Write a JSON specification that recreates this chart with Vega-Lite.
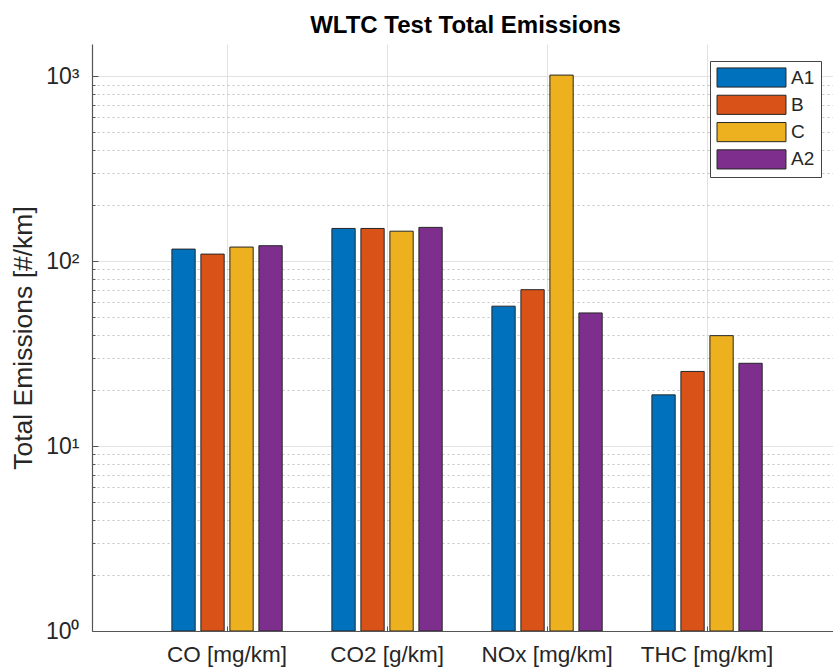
{
  "$schema": "https://vega.github.io/schema/vega-lite/v6.json",
  "width": 741,
  "height": 587,
  "autosize": "none",
  "padding": {"left": 92, "top": 44, "right": 0, "bottom": 41},
  "background": "white",
  "title": {"text": "WLTC Test Total Emissions", "fontSize": 24, "font": "Liberation Sans", "fontWeight": "bold", "color": "#000000", "anchor": "middle", "dx": 3, "baseline": "alphabetic", "offset": -13},
  "config": {"view": {"stroke": null}, "font": "Liberation Sans"},
  "data": {"values": [
    {"pollutant": "CO [mg/km]", "vehicle": "A1", "value": 116},
    {"pollutant": "CO [mg/km]", "vehicle": "B", "value": 109},
    {"pollutant": "CO [mg/km]", "vehicle": "C", "value": 119},
    {"pollutant": "CO [mg/km]", "vehicle": "A2", "value": 121},
    {"pollutant": "CO2 [g/km]", "vehicle": "A1", "value": 150},
    {"pollutant": "CO2 [g/km]", "vehicle": "B", "value": 150},
    {"pollutant": "CO2 [g/km]", "vehicle": "C", "value": 145},
    {"pollutant": "CO2 [g/km]", "vehicle": "A2", "value": 152},
    {"pollutant": "NOx [mg/km]", "vehicle": "A1", "value": 57},
    {"pollutant": "NOx [mg/km]", "vehicle": "B", "value": 70},
    {"pollutant": "NOx [mg/km]", "vehicle": "C", "value": 1012},
    {"pollutant": "NOx [mg/km]", "vehicle": "A2", "value": 52.4},
    {"pollutant": "THC [mg/km]", "vehicle": "A1", "value": 18.9},
    {"pollutant": "THC [mg/km]", "vehicle": "B", "value": 25.3},
    {"pollutant": "THC [mg/km]", "vehicle": "C", "value": 39.5},
    {"pollutant": "THC [mg/km]", "vehicle": "A2", "value": 28.0}
  ]},
  "resolve": {"axis": {"y": "independent"}},
  "layer": [
    {
      "mark": {"type": "point", "opacity": 0},
      "encoding": {
        "x": {"field": "pollutant", "type": "nominal", "sort": ["CO [mg/km]", "CO2 [g/km]", "NOx [mg/km]", "THC [mg/km]"], "scale": {"paddingInner": 0, "paddingOuter": 0.3156, "align": 0.545}},
        "y": {"field": "value", "type": "quantitative", "scale": {"type": "log", "domain": [1, 1490], "nice": false},
          "axis": {"orient": "left", "values": [2,3,4,5,6,7,8,9,20,30,40,50,60,70,80,90,200,300,400,500,600,700,800,900], "labels": false, "title": null, "domain": false, "grid": true, "gridColor": "#c4c4c4", "gridDash": [2, 3], "gridWidth": 1, "ticks": true, "tickSize": -3, "tickColor": "#555555"}}
      }
    },
    {
      "mark": {"type": "bar", "stroke": "#262626", "strokeWidth": 1, "clip": true},
      "encoding": {
        "x": {"field": "pollutant", "type": "nominal", "sort": ["CO [mg/km]", "CO2 [g/km]", "NOx [mg/km]", "THC [mg/km]"],
          "axis": {"labelAngle": 0, "labelAlign": "center", "labelFontSize": 22.5, "labelColor": "#262626", "labelPadding": 28, "title": null, "grid": true, "gridColor": "#e2e2e2", "bandPosition": 0.5, "ticks": true, "tickSize": -5, "tickColor": "#555555", "domainColor": "#555555", "domainWidth": 1.2}},
        "xOffset": {"field": "vehicle", "type": "nominal", "sort": ["A1", "B", "C", "A2"], "scale": {"paddingInner": 0.197, "paddingOuter": 0.857}},
        "y": {"field": "value", "type": "quantitative", "scale": {"type": "log", "domain": [1, 1490], "nice": false},
          "axis": {"orient": "left", "values": [1, 10, 100, 1000], "labelExpr": "datum.value == 1 ? '10⁰' : datum.value == 10 ? '10¹' : datum.value == 100 ? '10²' : '10³'", "labelFontSize": 23, "labelColor": "#262626", "labelPadding": 19, "grid": true, "gridColor": "#e2e2e2", "ticks": true, "tickSize": -6, "tickColor": "#555555", "domainColor": "#555555", "domainWidth": 1.2, "title": "Total Emissions [#/km]", "titleFontSize": 26.5, "titleFontWeight": "normal", "titleColor": "#262626", "titlePadding": 8}},
        "y2": {"datum": 1},
        "color": {"field": "vehicle", "type": "nominal", "sort": ["A1", "B", "C", "A2"],
          "scale": {"domain": ["A1", "B", "C", "A2"], "range": ["#0072BD", "#D95319", "#EDB120", "#7E2F8E"]},
          "legend": {"orient": "none", "legendX": 618, "legendY": 17, "title": null, "symbolType": "M-3.6,-1H3.6V1H-3.6Z", "symbolSize": 367, "symbolOffset": 25, "symbolStrokeColor": "#262626", "symbolStrokeWidth": 1, "symbolOpacity": 1, "labelFontSize": 19, "labelColor": "#262626", "labelOffset": 29, "rowPadding": 2.3, "padding": 6, "fillColor": "white", "strokeColor": "#444444"}}
      }
    }
  ]
}
